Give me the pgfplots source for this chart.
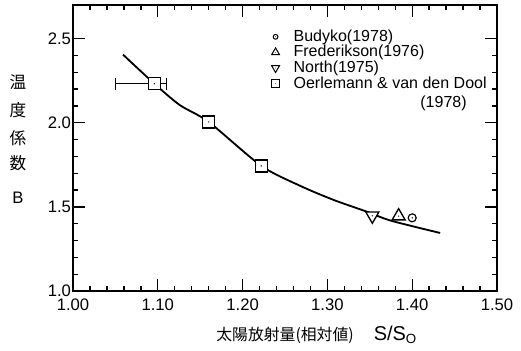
\documentclass[border=0pt]{standalone}
\usepackage{pgfplots}
\pgfplotsset{compat=1.18}
\usepackage{fontspec}
\setmainfont{Liberation Sans}
\newfontfamily\cjk{Noto Sans CJK JP}
\pgfdeclareplotmark{sqdot}{%
  \pgfpathrectangle{\pgfpoint{-\pgfplotmarksize}{-\pgfplotmarksize}}{\pgfpoint{2\pgfplotmarksize}{2\pgfplotmarksize}}%
  \pgfusepathqfillstroke
  \begin{pgfscope}\pgfsetfillcolor{black}\pgfpathcircle{\pgfpointorigin}{0.4pt}\pgfusepathqfill\end{pgfscope}}
\pgfdeclareplotmark{odot}{%
  \pgfpathcircle{\pgfpointorigin}{\pgfplotmarksize}\pgfusepathqfillstroke
  \begin{pgfscope}\pgfsetfillcolor{black}\pgfpathcircle{\pgfpointorigin}{0.45pt}\pgfusepathqfill\end{pgfscope}}
\pgfdeclareplotmark{triup}{%
  \pgfpathmoveto{\pgfpointpolar{90}{\pgfplotmarksize}}%
  \pgfpathlineto{\pgfpointpolar{210}{\pgfplotmarksize}}%
  \pgfpathlineto{\pgfpointpolar{330}{\pgfplotmarksize}}%
  \pgfpathclose\pgfusepathqfillstroke
  \begin{pgfscope}\pgfsetfillcolor{black}\pgfpathcircle{\pgfpointorigin}{0.4pt}\pgfusepathqfill\end{pgfscope}}
\pgfdeclareplotmark{tridown}{%
  \pgfpathmoveto{\pgfpointpolar{270}{\pgfplotmarksize}}%
  \pgfpathlineto{\pgfpointpolar{30}{\pgfplotmarksize}}%
  \pgfpathlineto{\pgfpointpolar{150}{\pgfplotmarksize}}%
  \pgfpathclose\pgfusepathqfillstroke
  \begin{pgfscope}\pgfsetfillcolor{black}\pgfpathcircle{\pgfpointorigin}{0.4pt}\pgfusepathqfill\end{pgfscope}}
\begin{document}
\begin{tikzpicture}
\useasboundingbox (-43.8pt,-35.4pt) rectangle (268.8pt,174.6pt);
\begin{axis}[
  at={(0,0)}, anchor=south west,
  scale only axis, clip=false,
  width=254.4pt, height=171.6pt,
  xmin=1.0, xmax=1.5, ymin=1.0, ymax=2.70,
  xtick={1.0,1.1,1.2,1.3,1.4,1.5},
  ytick={1.0,1.5,2.0,2.5},
  minor x tick num=4,
  minor y tick num=4,
  major tick length=7pt,
  minor tick length=3pt,
  tick style={black, line width=0.8pt},
  axis line style={line width=1pt},
  /pgf/number format/assume math mode=true,
  xticklabel={\pgfmathprintnumber[fixed,fixed zerofill,precision=2]{\tick}},
  yticklabels={1.0,1.5,2.0,2.5},
  ticklabel style={font=\fontsize{10}{12}\selectfont},
  yticklabel style={inner sep=1pt},
  xticklabel style={inner sep=1pt, yshift=-3.5pt},
  xlabel={{\cjk\fontsize{9.5}{11}\selectfont 太陽放射量(相対値)}\hspace{1.2em}{\fontsize{12}{14}\selectfont S/S\textsubscript{O}}},
  xlabel style={at={(rel axis cs:0.575,-0.154)}, anchor=center},
  legend style={draw=none, fill=none, at={(rel axis cs:0.456,0.935)}, anchor=north west,
    font=\fontsize{9.6}{11}\selectfont, row sep=-2.1pt, legend cell align=left,
    nodes={inner sep=1.5pt}, /tikz/every odd column/.append style={column sep=7pt}},
  legend image post style={mark options={scale=0.6, fill=white, draw=black, line width=0.6pt}},
]
\node[font=\cjk\fontsize{10}{12}\selectfont] at (rel axis cs:-0.130,0.731) {温};
\node[font=\cjk\fontsize{10}{12}\selectfont] at (rel axis cs:-0.130,0.633) {度};
\node[font=\cjk\fontsize{10}{12}\selectfont] at (rel axis cs:-0.130,0.535) {係};
\node[font=\cjk\fontsize{10}{12}\selectfont] at (rel axis cs:-0.130,0.448) {数};
\node[font=\fontsize{10}{12}\selectfont] at (rel axis cs:-0.130,0.325) {B};
\addplot[black, line width=1.1pt, smooth, tension=0.45, forget plot] coordinates {
 (1.059,2.405) (1.096,2.232) (1.126,2.105) (1.160,2.005) (1.222,1.744)
 (1.268,1.625) (1.307,1.542) (1.344,1.476) (1.375,1.418) (1.433,1.345)};
\addplot[draw=none, forget plot,
  error bars/.cd, x dir=both, x explicit,
  error bar style={line width=0.8pt, black},
  error mark options={rotate=90, mark size=3.6pt, line width=0.8pt}]
  coordinates {(1.096,2.232) += (0.014,0) -= (0.046,0)};
\addplot[only marks, mark=odot, mark size=2.4pt, mark options={fill=white, draw=black, line width=0.7pt}]
  coordinates {(1.400,1.435)};
\addlegendentry{Budyko(1978)}
\addplot[only marks, mark=triup, mark size=4.5pt, mark options={fill=white, draw=black, line width=0.8pt}]
  coordinates {(1.384,1.445)};
\addlegendentry{Frederikson(1976)}
\addplot[only marks, mark=tridown, mark size=4.5pt, mark options={fill=white, draw=black, line width=0.8pt}]
  coordinates {(1.353,1.447)};
\addlegendentry{North(1975)}
\addplot[only marks, mark=sqdot, mark size=3.6pt, mark options={fill=white, draw=black, line width=0.8pt}]
  coordinates {(1.096,2.232) (1.160,2.005) (1.222,1.744)};
\addlegendentry{Oerlemann \& van den Dool\smash{\raisebox{-1.05\baselineskip}{\llap{(1978)\hspace{12pt}}}}}
\end{axis}
\end{tikzpicture}
\end{document}
